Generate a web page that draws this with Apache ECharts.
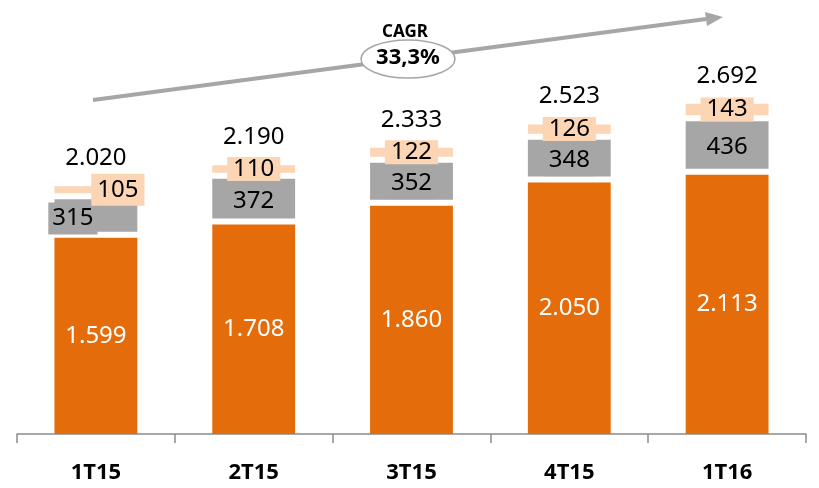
<!DOCTYPE html>
<html>
<head>
    <meta charset="utf-8">
    <title>CAGR 33,3%</title>
    <script src="https://cdn.jsdelivr.net/npm/echarts@6/dist/echarts.min.js"></script>
</head>
<body style="margin:0;">
    <div id="main" style="width: 819px;height:488px;"></div>
    <script type="text/javascript">
        // dados
        var categories = ['1T15', '2T15', '3T15', '4T15', '1T16'];
        var base = [1599, 1708, 1860, 2050, 2113];
        var middle = [315, 372, 352, 348, 436];
        var topPart = [105, 110, 122, 126, 143];
        var totals = [2020, 2190, 2333, 2523, 2692];

        var ORANGE = '#E46C0A';
        var GRAY = '#A6A6A6';
        var PEACH = '#FCD5B5';
        var FONT = '"Noto Sans"';
        var GAP = 6;          // faixa branca entre os blocos
        var BAR_RATIO = 0.525;

        // 1599 -> "1.599"
        function fmt(v) {
            return String(v).replace(/\B(?=(\d{3})+(?!\d))/g, '.');
        }

        // [categoria, inicio, fim, valor] para cada bloco empilhado
        function stackRows(values, below) {
            return values.map(function (v, i) {
                var lo = below.reduce(function (s, arr) { return s + arr[i]; }, 0);
                return [i, lo, lo + v, v];
            });
        }

        // ajustes de rótulo (1T15 deslocado como no original)
        var labelShift = {
            middle: { 0: [-23, 1] },
            top: { 0: [22, 0] }
        };

        function segmentRender(color, textColor, labelBg, key, padding) {
            return function (params, api) {
                var i = api.value(0), lo = api.value(1), hi = api.value(2), v = api.value(3);
                var p0 = api.coord([i, hi]);
                var p1 = api.coord([i, lo]);
                var w = api.size([1, 0])[0] * BAR_RATIO;
                var gap = lo > 0 ? GAP : 0;
                var h = p1[1] - p0[1] - gap;
                var shift = (labelShift[key] && labelShift[key][i]) || [0, 0];
                var pad = (key === 'top' && i === 0) ? [4, 6] : padding;
                var ty = key === 'top' ? p0[1] + h / 2 : (p0[1] + p1[1]) / 2 - (key === 'base' ? 0 : 1);
                var text = {
                    type: 'text',
                    x: p0[0] + shift[0],
                    y: ty + shift[1],
                    style: {
                        text: fmt(v), fill: textColor, font: '24px ' + FONT,
                        align: 'center', verticalAlign: 'middle',
                        backgroundColor: labelBg || null, padding: pad
                    }
                };
                return {
                    type: 'group',
                    children: [
                        { type: 'rect', shape: { x: p0[0] - w / 2, y: p0[1], width: w, height: h }, style: { fill: color } },
                        text
                    ]
                };
            };
        }

        var myChart = echarts.init(document.getElementById('main'));

        var option = {
            animation: false,
            grid: { left: 17, right: 13, top: 66, bottom: 54 },
            xAxis: {
                type: 'category',
                data: categories,
                axisLine: { lineStyle: { color: '#8c8c8c', width: 1.5 } },
                axisTick: { show: true, length: 9, lineStyle: { color: '#8c8c8c', width: 1.5 } },
                axisLabel: { color: '#000', fontFamily: 'Noto Sans', fontWeight: 'bold', fontSize: 22, margin: 28 }
            },
            yAxis: { type: 'value', min: 0, max: 3000, show: false, splitLine: { show: false } },
            series: [
                {
                    name: 'base', type: 'custom',
                    data: stackRows(base, []),
                    encode: { x: 0, y: [1, 2] },
                    renderItem: segmentRender(ORANGE, '#fff', null, 'base', 0)
                },
                {
                    name: 'middle', type: 'custom',
                    data: stackRows(middle, [base]),
                    encode: { x: 0, y: [1, 2] },
                    renderItem: segmentRender(GRAY, '#000', GRAY, 'middle', [4, 4])
                },
                {
                    name: 'top', type: 'custom',
                    data: stackRows(topPart, [base, middle]),
                    encode: { x: 0, y: [1, 2] },
                    renderItem: segmentRender(PEACH, '#000', PEACH, 'top', [0, 6])
                },
                {
                    name: 'total', type: 'custom',
                    data: totals.map(function (t, i) { return [i, base[i] + middle[i] + topPart[i], t]; }),
                    encode: { x: 0, y: 1 },
                    renderItem: function (params, api) {
                        var p = api.coord([api.value(0), api.value(1)]);
                        return {
                            type: 'text', x: p[0], y: p[1] - 28,
                            style: { text: fmt(api.value(2)), fill: '#000', font: '24px ' + FONT, align: 'center', verticalAlign: 'middle' }
                        };
                    }
                }
            ],
            graphic: [
                {
                    type: 'line', z: 10,
                    shape: { x1: 93, y1: 100, x2: 706, y2: 19 },
                    style: { stroke: GRAY, lineWidth: 4 }
                },
                {
                    type: 'polygon', z: 10,
                    shape: { points: [[723, 17], [707, 26], [705, 12]] },
                    style: { fill: GRAY }
                },
                {
                    type: 'ellipse', z: 11,
                    shape: { cx: 408, cy: 59, rx: 47, ry: 19 },
                    style: { fill: '#fff', stroke: GRAY, lineWidth: 1.5 }
                },
                {
                    type: 'text', z: 12, x: 408, y: 58,
                    style: { text: '33,3%', fill: '#000', font: 'bold 22px "Noto Sans"', align: 'center', verticalAlign: 'middle' }
                },
                {
                    type: 'text', z: 12, x: 405, y: 32,
                    style: { text: 'CAGR', fill: '#000', font: 'bold 17px "Noto Sans"', align: 'center', verticalAlign: 'middle' }
                }
            ]
        };

        myChart.setOption(option);
    </script>
</body>
</html>
